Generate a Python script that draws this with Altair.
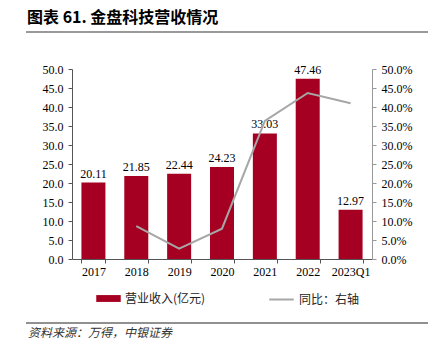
import altair as alt
import pandas as pd

categories = ["2017", "2018", "2019", "2020", "2021", "2022", "2023Q1"]
revenue = [20.11, 21.85, 22.44, 24.23, 33.03, 47.46, 12.97]
yoy_categories = ["2018", "2019", "2020", "2021", "2022", "2023Q1"]
yoy = [0.0865, 0.0270, 0.0798, 0.3632, 0.4369, 0.4100]
left_ticks = [0, 5, 10, 15, 20, 25, 30, 35, 40, 45, 50]
right_ticks = [0, 0.05, 0.10, 0.15, 0.20, 0.25, 0.30, 0.35, 0.40, 0.45, 0.50]
title_text = ["图表 61. 金盘科技营收情况"]
source_text = ["资料来源：万得，中银证券"]
bar_name = "营业收入(亿元)"
line_name = "同比：右轴"

SERIF = "Liberation Serif"
CJK = "Noto Sans CJK SC"
RED = "#A50021"
GRAY = "#A6A6A6"

bars_df = pd.DataFrame({"year": categories, "revenue": revenue, "series": bar_name})
line_df = pd.DataFrame({"year": yoy_categories, "yoy": yoy, "series": line_name})

x_enc = alt.X(
    "year:N",
    sort=categories,
    scale=alt.Scale(domain=categories, paddingInner=0.44, paddingOuter=0.22),
    axis=alt.Axis(
        title=None, labelAngle=0, tickBand="extent", labelFont=SERIF,
        labelFontSize=12, labelColor="black", domainColor="#555",
        tickColor="#555", tickSize=4, labelPadding=3,
    ),
)

left_axis = alt.Axis(
    title=None, values=left_ticks, format=".1f", labelFont=SERIF,
    labelFontSize=12, labelColor="black", domainColor="#555",
    tickColor="#555", tickSize=4, grid=False, labelPadding=5,
)
left_scale = alt.Scale(domain=[0, 50], nice=False)

bars = alt.Chart(bars_df).mark_bar(color=RED).encode(
    x=x_enc,
    y=alt.Y("revenue:Q", scale=left_scale, axis=left_axis),
    color=alt.Color(
        "series:N",
        scale=alt.Scale(domain=[bar_name], range=[RED]),
        legend=alt.Legend(
            orient="none", legendX=24, legendY=217, title=None,
            symbolType="M-1,-0.28H1V0.28H-1Z", symbolSize=600,
            symbolStrokeWidth=0, symbolOpacity=1,
            labelFont=CJK, labelFontSize=12, labelColor="#222", labelOffset=4,
        ),
    ),
)

labels = alt.Chart(bars_df).mark_text(
    dy=-9, font=SERIF, fontSize=12, color="black"
).encode(
    x=alt.X("year:N", sort=categories),
    y=alt.Y("revenue:Q", scale=left_scale, axis=left_axis),
    text=alt.Text("revenue:Q", format=".2f"),
)

line = alt.Chart(line_df).mark_line(strokeWidth=2).encode(
    x=alt.X("year:N", sort=categories),
    y=alt.Y(
        "yoy:Q",
        scale=alt.Scale(domain=[0, 0.5], nice=False),
        axis=alt.Axis(
            title=None, orient="right", values=right_ticks, format=".1%",
            labelFont=SERIF, labelFontSize=12, labelColor="black",
            domainColor="#999", tickColor="#999", tickSize=4, grid=False,
            labelPadding=5,
        ),
    ),
    stroke=alt.Stroke(
        "series:N",
        scale=alt.Scale(domain=[line_name], range=[GRAY]),
        legend=alt.Legend(
            orient="none", legendX=196, legendY=217, title=None,
            symbolType="stroke", symbolSize=600, symbolStrokeWidth=2,
            labelFont=CJK, labelFontSize=12, labelColor="#222", labelOffset=4,
        ),
    ),
)

left_layer = alt.layer(bars, labels)
main = alt.layer(left_layer, line).resolve_scale(y="independent")

title_mark = alt.Chart(alt.Data(values=[{"t": t} for t in title_text])).mark_text(
    align="left", baseline="middle", font=CJK, fontSize=16, fontWeight="bold",
    color="black",
).encode(x=alt.value(-45), y=alt.value(-51), text="t:N")

title_rule = alt.Chart(alt.Data(values=[{"a": 1}])).mark_rule(
    color="#999", strokeWidth=2
).encode(x=alt.value(-46), x2=alt.value(356), y=alt.value(-37))

source_rule = alt.Chart(alt.Data(values=[{"a": 1}])).mark_rule(
    color="#222", strokeWidth=1
).encode(x=alt.value(-46), x2=alt.value(356), y=alt.value(254))

source_mark = alt.Chart(alt.Data(values=[{"t": t} for t in source_text])).mark_text(
    align="left", baseline="middle", font=CJK, fontSize=12, fontStyle="italic",
    color="#333",
).encode(x=alt.value(-44), y=alt.value(264), text="t:N")

chart = alt.layer(main, title_mark, title_rule, source_rule, source_mark).properties(
    width=300,
    height=190,
    autosize=alt.AutoSizeParams(type="none"),
    padding={"left": 72, "top": 69, "right": 56, "bottom": 95},
).configure_view(stroke=None)

chart.save("out.html", embed_options={"renderer": "svg", "actions": False})
